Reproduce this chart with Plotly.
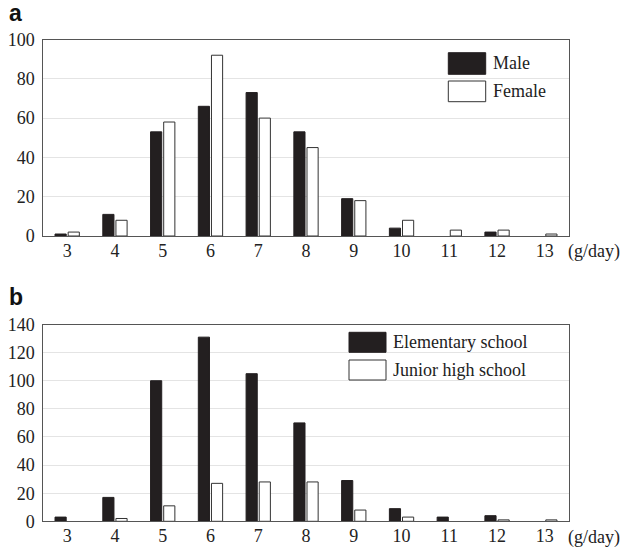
import plotly.graph_objects as go

# ---- data ----
salt_intake = [3, 4, 5, 6, 7, 8, 9, 10, 11, 12, 13]
tick_labels = ["3", "4", "5", "6", "7", "8", "9", "10", "11", "12", "13"]

male = [1, 11, 53, 66, 73, 53, 19, 4, 0, 2, 0]
female = [2, 8, 58, 92, 60, 45, 18, 8, 3, 3, 1]

elementary = [3, 17, 100, 131, 105, 70, 29, 9, 3, 4, 0]
junior_high = [0, 2, 11, 27, 28, 28, 8, 3, 0, 1, 1]

legend_a = ["Male", "Female"]
legend_b = ["Elementary school", "Junior high school"]
unit_label = "(g/day)"

# ---- layout helpers ----
W, H = 622, 549
BLACK = "#231f20"
SERIF = "Liberation Serif, Times New Roman, serif"


def px_x(px):
    return px / W


def px_y(py):
    return (H - py) / H


def nz(vals):
    # zero counts draw no bar at all
    return [v if v else None for v in vals]


fig = go.Figure()

fig.add_trace(go.Bar(x=salt_intake, y=nz(male), name=legend_a[0], xaxis="x", yaxis="y",
                     marker=dict(color=BLACK, line=dict(color=BLACK, width=1))))
fig.add_trace(go.Bar(x=salt_intake, y=nz(female), name=legend_a[1], xaxis="x", yaxis="y",
                     marker=dict(color="white", line=dict(color="#333333", width=1))))
fig.add_trace(go.Bar(x=salt_intake, y=nz(elementary), name=legend_b[0], xaxis="x2", yaxis="y2",
                     marker=dict(color=BLACK, line=dict(color=BLACK, width=1))))
fig.add_trace(go.Bar(x=salt_intake, y=nz(junior_high), name=legend_b[1], xaxis="x2", yaxis="y2",
                     marker=dict(color="white", line=dict(color="#333333", width=1))))

x_dom = [px_x(43.3), px_x(568.7)]
tickfont = dict(family=SERIF, size=18, color="#222222")

xcommon = dict(domain=x_dom, range=[2.5, 13.5], tickmode="array", tickvals=salt_intake,
               ticktext=tick_labels, showgrid=False, zeroline=False, showline=True,
               mirror=True, linecolor="#555555", linewidth=1, ticks="",
               ticklabelstandoff=-2,
               tickfont=tickfont, fixedrange=True, automargin=False)
ycommon = dict(showgrid=True, gridcolor="#e4e4e4", gridwidth=1, zeroline=False,
               showline=True, mirror=True, linecolor="#555555", linewidth=1,
               ticks="outside", ticklen=4, tickcolor="rgba(0,0,0,0)", tickfont=tickfont,
               dtick=20, fixedrange=True, automargin=False)

fig.update_layout(
    width=W, height=H, autosize=False,
    margin=dict(l=0, r=0, t=0, b=0, pad=0),
    paper_bgcolor="white", plot_bgcolor="white",
    showlegend=False,
    barmode="group", bargap=0.45, bargroupgap=0.15,
    xaxis=dict(**xcommon, anchor="y"),
    yaxis=dict(**ycommon, domain=[px_y(236), px_y(39.5)], range=[0, 100], anchor="x"),
    xaxis2=dict(**xcommon, anchor="y2"),
    yaxis2=dict(**ycommon, domain=[px_y(521.3), px_y(324.5)], range=[0, 140], anchor="x2"),
)

shapes = []
annotations = []


def legend_entry(x0, x1, y0, y1, fill, line, text, ty):
    shapes.append(dict(type="rect", xref="paper", yref="paper",
                       x0=px_x(x0), x1=px_x(x1), y0=px_y(y1), y1=px_y(y0),
                       fillcolor=fill, line=dict(color=line, width=1)))
    annotations.append(dict(text=text, xref="paper", yref="paper", x=px_x(x1 + 5),
                            y=px_y(ty), xanchor="left", yanchor="middle", showarrow=False,
                            font=dict(family=SERIF, size=18, color="#222222")))


legend_entry(448.3, 485.7, 52.7, 74.3, BLACK, BLACK, legend_a[0], 63)
legend_entry(448.3, 485.7, 81, 101.7, "white", "#333333", legend_a[1], 91.5)
legend_entry(349, 386, 332.3, 352.3, BLACK, BLACK, legend_b[0], 341.7)
legend_entry(349, 386, 360, 380, "white", "#333333", legend_b[1], 370)

for ty in (251, 537):
    annotations.append(dict(text=unit_label, xref="paper", yref="paper", x=px_x(566),
                            y=px_y(ty), xanchor="left", yanchor="middle", showarrow=False,
                            font=dict(family=SERIF, size=18, color="#222222")))

for letter, ty in (("a", 13), ("b", 297)):
    annotations.append(dict(text=f"<b>{letter}</b>", xref="paper", yref="paper",
                            x=px_x(7), y=px_y(ty), xanchor="left", yanchor="middle",
                            showarrow=False,
                            font=dict(family="Liberation Sans", size=23, color="#111111")))

fig.update_layout(shapes=shapes, annotations=annotations)

fig.write_html("out.html", post_script="document.body.style.margin='0';",
               config={"displayModeBar": False})
